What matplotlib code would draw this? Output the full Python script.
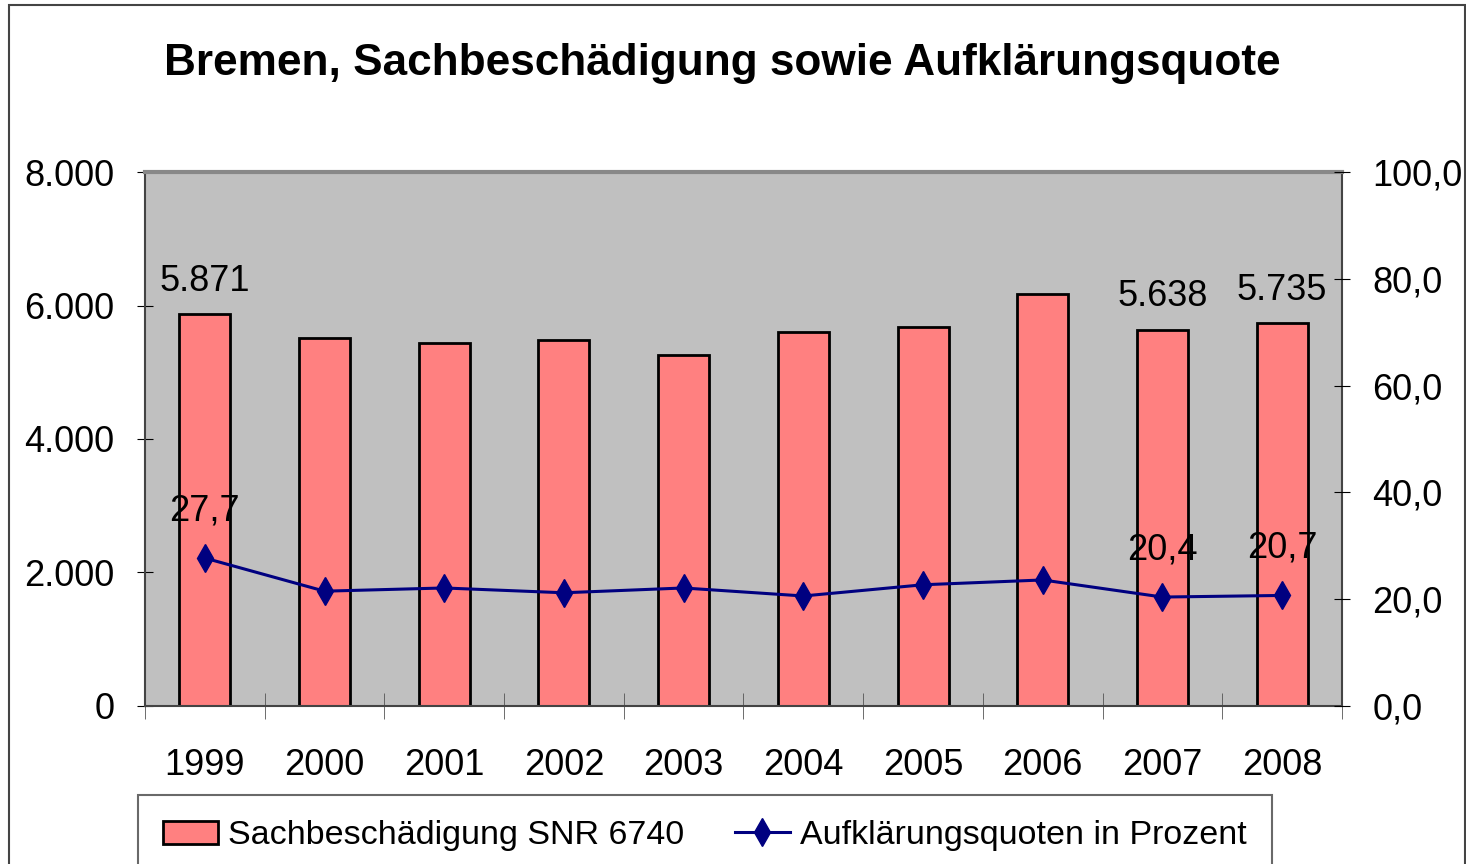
import matplotlib.pyplot as plt
from matplotlib.patches import Rectangle

plt.rcParams['font.family'] = ['Liberation Sans', 'DejaVu Sans']

jahre = ['1999', '2000', '2001', '2002', '2003', '2004', '2005', '2006', '2007', '2008']
faelle = [5871, 5513, 5438, 5483, 5258, 5603, 5678, 6172, 5638, 5735]
quote = [27.7, 21.5, 22.1, 21.2, 22.1, 20.6, 22.7, 23.6, 20.4, 20.7]
beschriftet = [0, 8, 9]  # nur diese Jahre haben Werte am Balken


def tausender(v):
    return '{:,.0f}'.format(v).replace(',', '.')


def komma(v):
    return '{:.1f}'.format(v).replace('.', ',')


fig = plt.figure(figsize=(14.66, 8.64), dpi=100)
ax = fig.add_axes([0.0989, 0.1829, 0.8165, 0.618])
ax.set_facecolor('#C0C0C0')

x = list(range(len(jahre)))
balken = ax.bar(x, faelle, width=0.426, color='#FF8080', edgecolor='black', linewidth=2,
                zorder=2)
ax.set_xlim(-0.5, len(jahre) - 0.5)
ax.set_ylim(0, 8000)
links = [0, 2000, 4000, 6000, 8000]
ax.set_yticks(links)
ax.set_yticklabels([tausender(v) for v in links], fontsize=26)
ax.set_xticks(x)
ax.set_xticklabels(jahre, fontsize=26)
ax.set_xticks([i - 0.5 for i in x] + [len(x) - 0.5], minor=True)
ax.tick_params(axis='x', which='major', length=0, pad=30)
ax.tick_params(axis='x', which='minor', length=19, direction='inout', color='#555555')
ax.tick_params(axis='y', length=12, direction='inout', pad=16)

for s in ['left', 'bottom', 'right']:
    ax.spines[s].set_color('#444444')
    ax.spines[s].set_linewidth(1.5)
ax.spines['top'].set_color('#888888')
ax.spines['top'].set_linewidth(3)

for i in beschriftet:
    ax.annotate(tausender(faelle[i]), (x[i], faelle[i]), xytext=(0, 17), textcoords='offset points',
                ha='center', va='baseline', fontsize=26)

ax2 = ax.twinx()
linie, = ax2.plot(x, quote, color='#000080', linewidth=2.2, marker='d', markersize=14,
                  zorder=3)
ax2.set_ylim(0, 100)
rechts = [0, 20, 40, 60, 80, 100]
ax2.set_yticks(rechts)
ax2.set_yticklabels([komma(v) for v in rechts], fontsize=26)
ax2.tick_params(axis='y', length=12, direction='inout', pad=16)
for s in ax2.spines.values():
    s.set_visible(False)

for i in beschriftet:
    ax2.annotate(komma(quote[i]), (x[i], quote[i]), xytext=(0, 27),
                 textcoords='offset points', ha='center', va='baseline', fontsize=26)

fig.text(0.493, 0.927, 'Bremen, Sachbeschädigung sowie Aufklärungsquote', ha='center', va='center',
         fontsize=31.8, fontweight='bold')

leg = fig.legend([balken, linie], ['Sachbeschädigung SNR 6740', 'Aufklärungsquoten in Prozent'],
                 loc='upper left', bbox_to_anchor=(0.094, 0.08), ncol=2, fontsize=24.5,
                 frameon=True, fancybox=False, edgecolor='#444444', borderpad=0.75,
                 borderaxespad=0, columnspacing=1.5, handlelength=1.6, handletextpad=0.3)
leg.get_frame().set_linewidth(1.5)

fig.patches.append(Rectangle((0.006, -0.1), 0.993, 1.094, transform=fig.transFigure,
                             fill=False, edgecolor='#444444', linewidth=1.5))

fig.savefig('out.png', dpi=100)
